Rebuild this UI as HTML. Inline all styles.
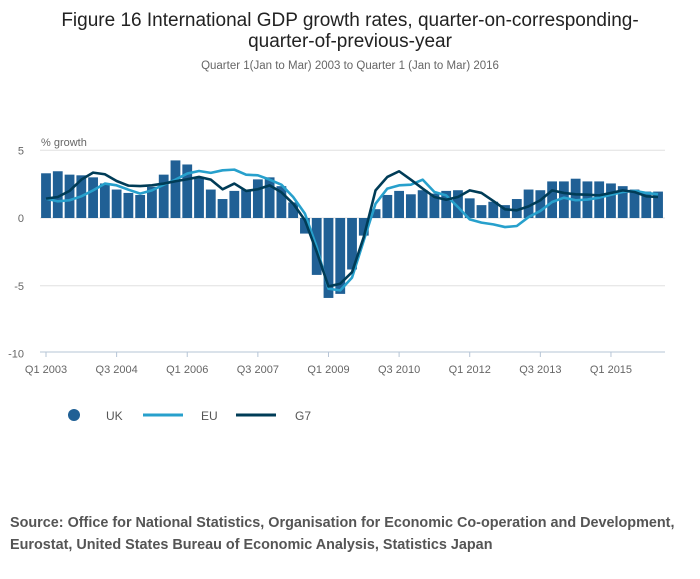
<!DOCTYPE html>
<html><head><meta charset="utf-8"><style>
body{margin:0;background:#fff;font-family:"Liberation Sans",sans-serif;}
svg text{font-family:"Liberation Sans",sans-serif;}
</style></head><body>
<svg id="chart" width="700" height="574" viewBox="0 0 700 574">
<text x="350" y="26" text-anchor="middle" font-size="19" fill="#222">Figure 16 International GDP growth rates, quarter-on-corresponding-</text>
<text x="350" y="47" text-anchor="middle" font-size="19" fill="#222">quarter-of-previous-year</text>
<text x="350" y="69" text-anchor="middle" font-size="11.5" fill="#666">Quarter 1(Jan to Mar) 2003 to Quarter 1 (Jan to Mar) 2016</text>
<text x="41" y="146" font-size="11" fill="#666">% growth</text>
<g id="grid"></g><g id="bars"></g><g id="lines"></g><g id="axes"></g>
<g>
<circle cx="74" cy="415" r="6" fill="#206095"/>
<text x="106" y="420" font-size="12" fill="#555">UK</text>
<line x1="143" y1="415" x2="183" y2="415" stroke="#27a0cc" stroke-width="3"/>
<text x="201" y="420" font-size="12" fill="#555">EU</text>
<line x1="236" y1="415" x2="276" y2="415" stroke="#003c57" stroke-width="3"/>
<text x="295" y="420" font-size="12" fill="#555">G7</text>
</g>
<text x="10" y="527" font-size="14.4" font-weight="bold" fill="#555">Source: Office for National Statistics, Organisation for Economic Co-operation and Development,</text>
<text x="10" y="549" font-size="14.4" font-weight="bold" fill="#555">Eurostat, United States Bureau of Economic Analysis, Statistics Japan</text>
</svg>
<script>
const uk=[3.3,3.45,3.2,3.15,3.0,2.55,2.1,1.85,1.7,2.3,3.2,4.25,3.95,3.0,2.1,1.4,2.0,2.1,2.85,3.0,2.35,1.15,-1.15,-4.2,-5.9,-5.6,-3.8,-1.3,0.65,1.7,2.0,1.75,2.05,1.8,2.0,2.05,1.45,0.95,1.2,0.95,1.4,2.1,2.05,2.7,2.7,2.9,2.7,2.7,2.55,2.35,2.1,1.95,1.95];
const eu=[1.43,1.23,1.31,1.6,2.04,2.54,2.41,2.09,1.8,2.04,2.46,2.83,3.28,3.47,3.33,3.52,3.57,3.2,3.15,2.83,2.46,1.55,0.32,-2.14,-5.22,-5.34,-4.4,-1.65,1.06,2.17,2.41,2.46,2.83,1.92,1.67,0.81,-0.1,-0.34,-0.47,-0.67,-0.59,0.07,0.52,1.18,1.5,1.31,1.36,1.5,1.72,1.92,2.0,1.85,1.75];
const g7=[1.43,1.55,2.0,2.83,3.35,3.23,2.73,2.39,2.36,2.41,2.54,2.71,2.86,3.03,2.83,2.12,2.54,2.0,2.12,2.41,1.9,1.06,-0.17,-2.5,-5.05,-4.85,-4.0,-1.4,2.04,3.03,3.45,2.83,2.17,1.55,1.35,1.55,2.04,1.85,1.26,0.64,0.57,0.86,1.31,2.04,1.85,1.75,1.72,1.67,1.85,2.04,1.92,1.6,1.55];
const xTickLabels=["Q1 2003","Q3 2004","Q1 2006","Q3 2007","Q1 2009","Q3 2010","Q1 2012","Q3 2013","Q1 2015"];
const yTicks=[5,0,-5,-10];
const NS="http://www.w3.org/2000/svg";
const x=i=>46+i*11.77;
const y=v=>218-v*13.55;
function mk(tag,attrs,parent){const e=document.createElementNS(NS,tag);for(const k in attrs)e.setAttribute(k,attrs[k]);parent.appendChild(e);return e;}
const grid=document.getElementById('grid'),bars=document.getElementById('bars'),lines=document.getElementById('lines'),axes=document.getElementById('axes');
yTicks.forEach(t=>{
  if(t!==-10){const l=mk('line',{x1:40,x2:665,y1:y(t),y2:y(t),stroke:'#e0e0e0','stroke-width':1},grid);
  
  }
  const tx=mk('text',{x:24,y:y(t)+4,'text-anchor':'end','font-size':11,fill:'#666'},axes);
  tx.textContent=t;
  
  
});
uk.forEach((v,i)=>{
  const r=mk('rect',{x:x(i)-4.9,width:9.8,y:Math.min(y(v),y(0)),height:Math.abs(y(v)-y(0)),fill:'#206095'},bars);
  
  
});
[[eu,'#27a0cc','line-eu'],[g7,'#003c57','line-g7']].forEach(([d,c,n])=>{
  const p=mk('polyline',{points:d.map((v,i)=>x(i)+','+y(v)).join(' '),fill:'none',stroke:c,'stroke-width':2.6,'stroke-linejoin':'round'},lines);
  
  
});
const ax=mk('line',{x1:40,x2:665,y1:352,y2:352,stroke:'#b6c4d6','stroke-width':1},axes);


for(let i=0;i<uk.length;i+=6){
  const tk=mk('line',{x1:x(i),x2:x(i),y1:352,y2:357,stroke:'#b6c4d6'},axes);
  
  
  const tx=mk('text',{x:x(i),y:373,'text-anchor':'middle','font-size':11,fill:'#666'},axes);
  tx.textContent=xTickLabels[i/6];
  
  
}
</script>
</body></html>
